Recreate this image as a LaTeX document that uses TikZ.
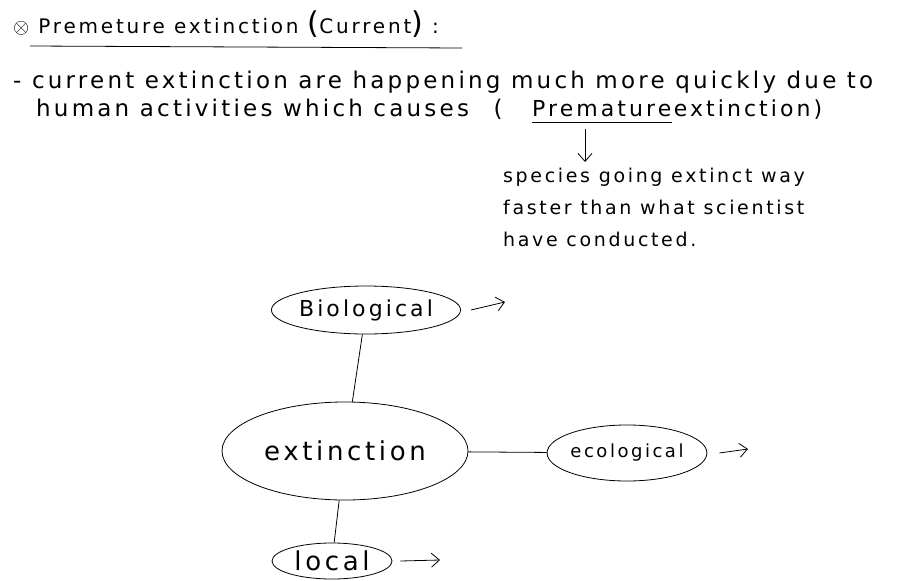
\documentclass[tikz,border=0pt]{standalone}
\usepackage{fontspec}
\setmainfont{DejaVu Sans}[LetterSpace=14]
\usetikzlibrary{positioning,shapes.geometric,arrows.meta}
\begin{document}
\begin{tikzpicture}[>={Straight Barb[length=8pt,width=14pt]},x=1pt,y=-1pt,
	note/.style={anchor=base west,inner sep=0pt,font=\fontsize{22}{30}\selectfont},
	bubble/.style={draw,ellipse,inner sep=0pt,line width=0.8pt,font=\fontsize{22}{26}\selectfont},
	link/.style={line width=0.8pt}]
	\useasboundingbox (0,0) rectangle (897,581);
	% title and note
	\node[note,font=\fontsize{20}{20}\selectfont] (title) at (13,33) {$\otimes$ Premeture extinction {\fontsize{30}{30}\selectfont(}Current{\fontsize{30}{30}\selectfont)} :};
	\draw[link] (title.base west) ++(17,13) -- ++(432,2);
	\node[note,font=\fontsize{23}{30}\selectfont] (line1) at (13,88) {- current extinction are happening much more quickly due to};
	\node[note,font=\fontsize{23}{30}\selectfont] (line2) at (36,116) {human activities which causes \hspace{14pt}(};
	\node[note] (prem) at (532,116) {Premature};
	\node[note,right=2pt of prem.base east,anchor=base west] (line2b) {extinction)};
	\draw[link] ([yshift=-6pt]prem.south west) -- ([yshift=-6pt]prem.south east);
	\node[note,anchor=north west,align=left,font=\fontsize{19}{32}\selectfont] (species) at (503,168) {species going extinct way\\faster than what scientist\\have conducted.};
	\draw[link,->] ([yshift=-12pt]prem.south -| 585,0) -- (585,162);
	% mind map
	\node[bubble,minimum width=167pt,minimum height=48pt] (bio) at (366,310) {Biological};
	\node[bubble,minimum width=246pt,minimum height=98pt,font=\fontsize{26}{30}\selectfont] (ext) at (345,451) {extinction};
	\node[bubble,minimum width=121pt,minimum height=56pt,font=\fontsize{18}{22}\selectfont] (eco) at (627,453) {ecological};
	\node[bubble,minimum width=120pt,minimum height=36pt,font=\fontsize{26}{30}\selectfont] (loc) at (332,561) {local};
	\coordinate (bioend) at (505,302);
	\coordinate (ecoend) at (748,449);
	\coordinate (locend) at (440,560);
	\draw[link] (bio) -- (ext);
	\draw[link] (ext) -- (eco);
	\draw[link] (ext) -- (loc);
	\draw[link,->] ([xshift=10pt]bio.east) -- (bioend);
	\draw[link,->] ([xshift=12pt]eco.east) -- (ecoend);
	\draw[link,->] ([xshift=8pt]loc.east) -- (locend);
\end{tikzpicture}
\end{document}
